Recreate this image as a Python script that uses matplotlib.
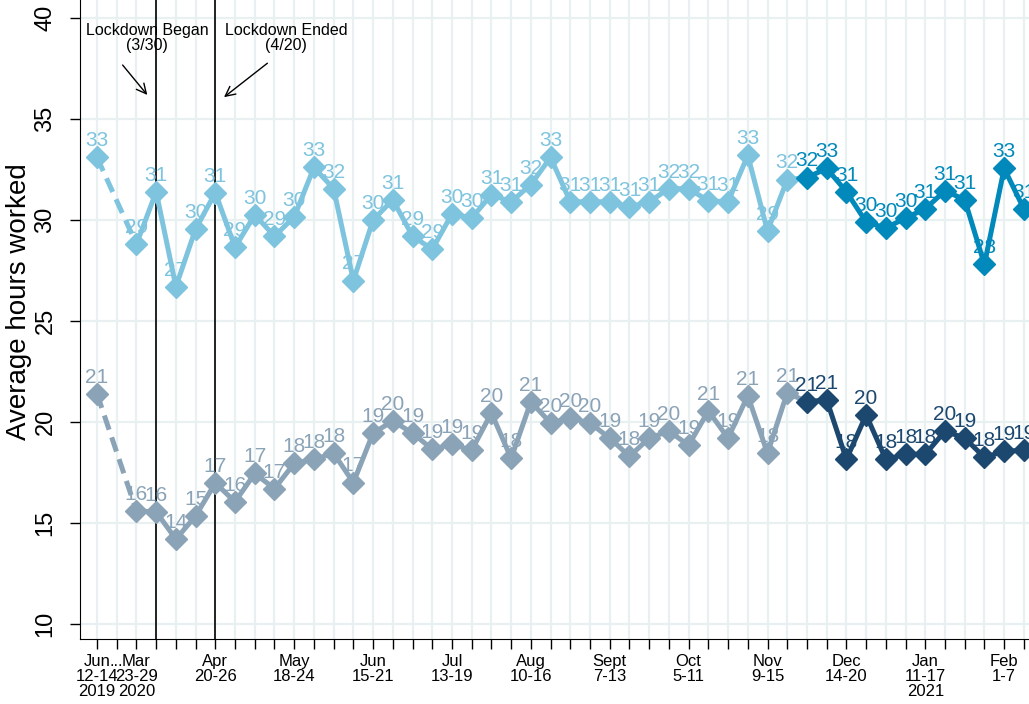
import matplotlib
matplotlib.use("Agg")
import matplotlib.pyplot as plt

plt.rcParams['font.family'] = ['Liberation Sans', 'DejaVu Sans']

# 横轴：每个调查周一个位置（第 1 个位置是断档 "..."）
tick_pos = list(range(48))
tick_text = [""] * 48
tick_text[0] = "Jun\n12-14\n2019"
tick_text[1] = "..."
tick_text[2] = "Mar\n23-29\n2020"
tick_text[6] = "Apr\n20-26"
tick_text[10] = "May\n18-24"
tick_text[14] = "Jun\n15-21"
tick_text[18] = "Jul\n13-19"
tick_text[22] = "Aug\n10-16"
tick_text[26] = "Sept\n7-13"
tick_text[30] = "Oct\n5-11"
tick_text[34] = "Nov\n9-15"
tick_text[38] = "Dec\n14-20"
tick_text[42] = "Jan\n11-17\n2021"
tick_text[46] = "Feb\n1-7"

# 数据
x_before = [0] + list(range(2, 36))
x_after = list(range(36, 48))

hi_before = [33.1, 28.8, 31.4, 26.7, 29.55, 31.35, 28.65, 30.25, 29.2, 30.15,
             32.6, 31.55, 27.0, 30.0, 31.0, 29.2, 28.55, 30.3, 30.1, 31.25,
             30.9, 31.75, 33.1, 30.9, 30.9, 30.9, 30.65, 30.9, 31.55, 31.55,
             30.95, 30.9, 33.2, 29.45, 32.0]
hi_after = [32.1, 32.55, 31.4, 29.9, 29.6, 30.1, 30.55, 31.45, 31.0, 27.8, 32.55, 30.55]

lo_before = [21.4, 15.6, 15.55, 14.2, 15.35, 16.98, 16.05, 17.45, 16.7, 17.95,
             18.15, 18.45, 17.0, 19.45, 20.05, 19.45, 18.65, 18.9, 18.6, 20.45,
             18.2, 21.0, 19.95, 20.2, 19.95, 19.2, 18.3, 19.2, 19.55, 18.85,
             20.55, 19.2, 21.3, 18.45, 21.45]
lo_after = [21.0, 21.1, 18.15, 20.35, 18.15, 18.4, 18.4, 19.55, 19.2, 18.25, 18.55, 18.6]

c_hi1 = "#7ec4de"
c_hi2 = "#0089ba"
c_lo1 = "#8ba3b7"
c_lo2 = "#1c4870"
grid_c = "#e8f0f2"

fig = plt.figure(figsize=(10.29, 7.04), dpi=100)
ax = fig.add_axes([80 / 1029, 65 / 704, 949 / 1029, 639 / 704])
ax.set_xlim(-0.862, 47.26)
ax.set_ylim(9.257, 40.89)

# 网格
ax.set_xticks(tick_pos)
ax.set_xticklabels(tick_text, fontsize=12, linespacing=1.0)
ax.set_yticks([10, 15, 20, 25, 30, 35, 40])
ax.set_yticklabels(["10", "15", "20", "25", "30", "35", "40"], fontsize=17,
                   rotation=90, va="center")
ax.grid(True, color=grid_c, lw=1.6, zorder=0)
ax.set_axisbelow(True)
ax.tick_params(axis="x", length=7, width=1, pad=4)
ax.tick_params(axis="y", length=7, width=1, pad=10)
ax.spines["top"].set_visible(False)
ax.spines["right"].set_visible(False)

# 封锁开始/结束
ax.axvline(3, color="black", lw=1.2, zorder=1.5)
ax.axvline(6, color="black", lw=1.2, zorder=1.5)
ax.text(2.54, 39.75, "Lockdown Began\n(3/30)", ha="center", va="top",
        fontsize=11.5, linespacing=1.0, zorder=1)
ax.text(9.58, 39.75, "Lockdown Ended\n(4/20)", ha="center", va="top",
        fontsize=11.5, linespacing=1.0, zorder=1)
arrow = dict(arrowstyle="->,head_length=0.7,head_width=0.35", color="black",
             lw=1, shrinkA=0, shrinkB=0)
ax.annotate("", xy=(2.55, 36.19), xytext=(1.30, 37.67), arrowprops=arrow)
ax.annotate("", xy=(6.44, 36.08), xytext=(8.64, 37.76), arrowprops=arrow)


def draw(xb, yb, xa, ya, c1, c2):
    # 虚线：2019 到 2020
    ax.plot(xb[:2], yb[:2], color=c1, lw=3.6, ls=(0, (3, 1.6)), zorder=3)
    ax.plot(xb[1:], yb[1:], color=c1, lw=3.6, zorder=3)
    ax.plot([xb[-1], xa[0]], [yb[-1], ya[0]], color=c1, lw=3.6, zorder=3)
    ax.plot(xa, ya, color=c2, lw=3.6, zorder=3.1)
    ax.plot(xb, yb, ls="none", marker="D", ms=11, color=c1, zorder=3.2)
    ax.plot(xa, ya, ls="none", marker="D", ms=11, color=c2, zorder=3.3)
    for x, y in zip(xb, yb):
        ax.annotate(f"{y:.0f}", (x, y), xytext=(0, 8), textcoords="offset points",
                    ha="center", va="baseline", fontsize=15, color=c1, zorder=2)
    for x, y in zip(xa, ya):
        ax.annotate(f"{y:.0f}", (x, y), xytext=(0, 8), textcoords="offset points",
                    ha="center", va="baseline", fontsize=15, color=c2, zorder=2.5)


draw(x_before, hi_before, x_after, hi_after, c_hi1, c_hi2)
draw(x_before, lo_before, x_after, lo_after, c_lo1, c_lo2)

fig.text(19 / 1029, 1 - 302 / 704, "Average hours worked", rotation=90,
         ha="center", va="center", fontsize=20)

plt.savefig("out.png", dpi=100)
